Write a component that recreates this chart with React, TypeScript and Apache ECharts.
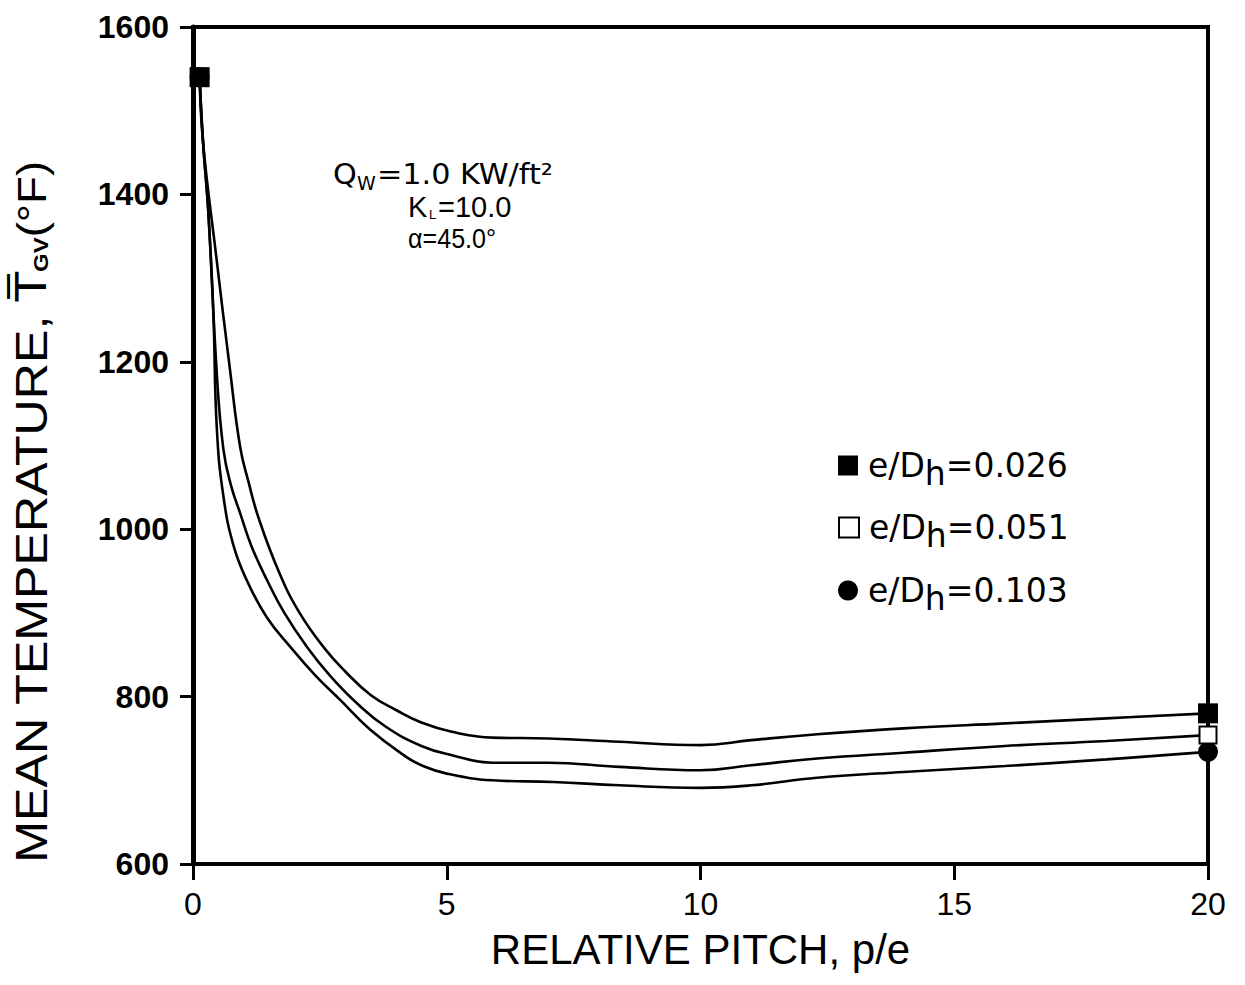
import React, { useEffect, useRef } from 'react';
import * as echarts from 'echarts';

// e/Dh = 0.026
const pitchA = [0.13, 0.2, 0.45, 0.73, 0.93, 1.1, 1.3, 1.7, 2.1, 2.6, 3.0, 3.5, 4.0, 4.5, 5.1, 5.9, 7.0, 8.4, 10.0, 11.0, 12.3, 14.0, 16.0, 18.0, 20.0];
const tempA = [1540, 1461, 1330, 1190, 1098, 1055, 1012, 948, 900, 857, 830, 802, 784, 769, 758, 751, 750, 746, 742, 748, 755, 762, 768, 774, 780];
// e/Dh = 0.051
const pitchB = [0.13, 0.2, 0.3, 0.47, 0.6, 0.75, 0.93, 1.15, 1.46, 1.8, 2.25, 2.7, 3.23, 3.8, 4.5, 5.1, 5.9, 7.0, 8.4, 10.0, 11.0, 12.3, 14.0, 16.0, 18.0, 20.0];
const tempB = [1540, 1461, 1381, 1185, 1095, 1052, 1019, 980, 939, 900, 859, 825, 792, 764, 741, 730, 721, 721, 716, 712, 718, 726, 733, 741, 747, 754];
// e/Dh = 0.103
const pitchC = [0.13, 0.2, 0.3, 0.4, 0.47, 0.6, 0.8, 1.06, 1.45, 1.91, 2.4, 2.9, 3.5, 4.2, 4.5, 5.0, 5.9, 7.1, 8.4, 10.0, 11.0, 12.3, 14.0, 16.0, 18.0, 20.0];
const tempC = [1540, 1461, 1381, 1260, 1120, 1039, 980, 939, 895, 860, 826, 796, 760, 728, 718, 708, 700, 698, 694, 691, 694, 703, 710, 717, 725, 734];

// marker points (start and end of each curve)
const markerPitch = [0.13, 20];
const markerA = [1540, 780];
const markerB = [1540, 754];
const markerC = [1540, 734];

const ratioLabels = ['0.026', '0.051', '0.103'];
const seriesNames = ['e/Dh=0.026', 'e/Dh=0.051', 'e/Dh=0.103'];

const xTitle = 'RELATIVE PITCH, p/e';
const yTitleMain = 'MEAN TEMPERATURE, ';

const zip = (xs: number[], ys: number[]) => xs.map((x, i) => [x, ys[i]]);

const FONT = 'Liberation Sans';
const DV = 'DejaVu Sans';

export default function App() {
  const ref = useRef<HTMLDivElement>(null);
  useEffect(() => {
    if (!ref.current) return;
    const chart = echarts.init(ref.current, undefined, { renderer: 'svg' });
    const lineStyle = { color: '#000', width: 2.6 };
    const lineSeries = (name: string, xs: number[], ys: number[]) => ({
      name,
      type: 'line',
      data: zip(xs, ys),
      smooth: 0.45,
      symbol: 'none',
      lineStyle,
      z: 2,
    });
    const txt = (text: string, x: number, y: number, fontSize: number, fontFamily = FONT, scaleX = 1) => ({
      type: 'text',
      x,
      y,
      scaleX,
      style: { text, fill: '#000', fontFamily, fontSize, align: 'left', verticalAlign: 'middle' },
    });
    const legendTops = [449, 511, 574];
    const option: any = {
      animation: false,
      backgroundColor: '#fff',
      grid: {
        left: 193,
        right: 37,
        top: 27,
        bottom: 121,
        show: true,
        borderColor: '#000',
        borderWidth: 4,
        backgroundColor: 'transparent',
        outerBoundsMode: 'none',
        containLabel: false,
      },
      xAxis: {
        type: 'value',
        min: 0,
        max: 20,
        interval: 5,
        name: xTitle,
        nameLocation: 'middle',
        nameGap: 64,
        nameTextStyle: { fontFamily: FONT, fontSize: 42, color: '#000' },
        axisLine: { show: true, onZero: false, lineStyle: { color: '#000', width: 4 } },
        axisTick: { show: true, length: 16, lineStyle: { color: '#000', width: 3 } },
        axisLabel: { fontFamily: FONT, fontSize: 32, color: '#000', margin: 24 },
        splitLine: { show: false },
      },
      yAxis: {
        type: 'value',
        min: 600,
        max: 1600,
        interval: 200,
        axisLine: { show: true, onZero: false, lineStyle: { color: '#000', width: 5 } },
        axisTick: { show: true, length: 13, lineStyle: { color: '#000', width: 3 } },
        axisLabel: {
          fontFamily: FONT,
          fontSize: 32,
          fontWeight: 'bold',
          color: '#000',
          margin: 24,
          formatter: (v: number) => String(v),
        },
        splitLine: { show: false },
      },
      legend: seriesNames.map((n, i) => ({
        data: [n],
        orient: 'vertical',
        left: 838,
        top: legendTops[i],
        padding: 0,
        itemWidth: 20,
        itemHeight: 20,
        itemGap: 0,
        selectedMode: false,
        itemStyle: { opacity: 1 },
        formatter: () => '{a|e/D}{s|h}{a|=' + ratioLabels[i] + '}',
        textStyle: {
          color: '#000',
          padding: [0, 0, 0, 5],
          rich: {
            a: { fontFamily: DV, fontSize: 33, color: '#000' },
            s: { fontFamily: DV, fontSize: 33, color: '#000', padding: [16, 0, 0, 0] },
          },
        },
      })),
      graphic: [
        {
          type: 'text',
          x: 32,
          y: 512,
          rotation: Math.PI / 2,
          scaleX: 1.14,
          style: {
            text: '{a|' + yTitleMain + '}{b|T\u0305}{s|GV}{c|(°F)}',
            align: 'center',
            verticalAlign: 'middle',
            fill: '#000',
            rich: {
              a: { fontFamily: FONT, fontSize: 44, fill: '#000' },
              b: { fontFamily: DV, fontSize: 42, fill: '#000' },
              s: { fontFamily: FONT, fontSize: 21, fontWeight: 'bold', fill: '#000', padding: [18, 0, 0, 0] },
              c: { fontFamily: FONT, fontSize: 40, fill: '#000' },
            },
          },
        },
        txt('Q', 333, 174, 28, DV, 1.08),
        txt('W', 357, 183, 19, DV),
        txt('=1.0 KW/ft²', 377, 174, 28, DV, 1.08),
        txt('K', 408, 207, 29),
        txt('L', 429, 214, 13),
        txt('=10.0', 438, 207, 29),
        txt('α=45.0°', 408, 239, 27, FONT, 0.93),
      ],
      series: [
        lineSeries('curve A', pitchA, tempA),
        lineSeries('curve B', pitchB, tempB),
        lineSeries('curve C', pitchC, tempC),
        {
          name: seriesNames[2],
          type: 'scatter',
          symbol: 'circle',
          symbolSize: 20,
          itemStyle: { color: '#000', opacity: 1 },
          data: zip(markerPitch, markerC),
          z: 3,
        },
        {
          name: seriesNames[1],
          type: 'scatter',
          symbol: 'rect',
          symbolSize: 17,
          itemStyle: { color: '#fff', borderColor: '#000', borderWidth: 2, opacity: 1 },
          data: zip(markerPitch, markerB),
          z: 4,
        },
        {
          name: seriesNames[0],
          type: 'scatter',
          symbol: 'rect',
          symbolSize: 20,
          itemStyle: { color: '#000', opacity: 1 },
          data: zip(markerPitch, markerA),
          z: 5,
        },
      ],
    };
    chart.setOption(option);
    return () => chart.dispose();
  }, []);
  return (
    <div
      ref={ref}
      style={{ position: 'fixed', left: 0, top: 0, width: 1245, height: 985, background: '#fff' }}
    />
  );
}
